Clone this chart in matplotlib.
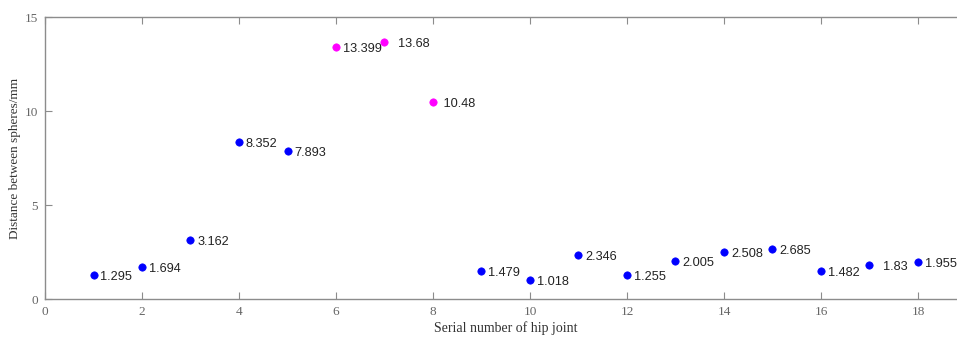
import numpy as np
import matplotlib.pyplot as plt

# serial number of hip joint and distance between spheres (mm)
joint = [1, 2, 3, 4, 5, 6, 7, 8, 9, 10, 11, 12, 13, 14, 15, 16, 17, 18]
dist = [1.295, 1.694, 3.162, 8.352, 7.893, 13.399, 13.68, 10.48, 1.479,
        1.018, 2.346, 1.255, 2.005, 2.508, 2.685, 1.482, 1.83, 1.955]
labels = ['1.295', '1.694', '3.162', '8.352', '7.893', '13.399', '  13.68',
          ' 10.48', '1.479', '1.018', '2.346', '1.255', '2.005', '2.508',
          '2.685', '1.482', '  1.83', '1.955']
outliers = [6, 7, 8]

joint = np.array(joint)
dist = np.array(dist)
bad = np.isin(joint, outliers)

fig = plt.figure(figsize=(9.57, 3.38), dpi=100)
# axes box runs past the right edge of the figure, as in the reference crop
ax = fig.add_axes([45 / 957, 39 / 338, 19 * 48.5 / 957, 282 / 338])

ax.scatter(joint[~bad], dist[~bad], s=28, color='#0000ff', edgecolors='#0000ff',
           linewidths=0.5, zorder=3)
ax.scatter(joint[bad], dist[bad], s=28, color='#ff00ff', edgecolors='#ff00ff',
           linewidths=0.5, zorder=3)

for x, y, t in zip(joint, dist, labels):
    ax.annotate(t, (x, y), xytext=(5, -1.5), textcoords='offset points',
                ha='left', va='center', fontsize=9.2, family='Liberation Sans',
                color='#222222')

ax.set_xlim(0, 19)
ax.set_ylim(0, 15)
ax.set_xticks(range(0, 19, 2))
ax.set_yticks([0, 5, 10, 15])

gray = '#8c8c8c'
for s in ax.spines.values():
    s.set_color(gray)
    s.set_linewidth(1.0)
ax.tick_params(direction='in', length=5, width=0.8, color=gray, top=True,
               right=True, labelcolor='#666666', labelsize=9.5, pad=5)
for lab in ax.get_xticklabels() + ax.get_yticklabels():
    lab.set_family('Liberation Serif')

ax.set_xlabel('Serial number of hip joint', family='Liberation Serif',
              fontsize=10, color='#333333', labelpad=2)
ax.set_ylabel('Distance between spheres/mm', family='Liberation Serif',
              fontsize=9.5, color='#333333', labelpad=3)

fig.savefig('out.png', dpi=100)
